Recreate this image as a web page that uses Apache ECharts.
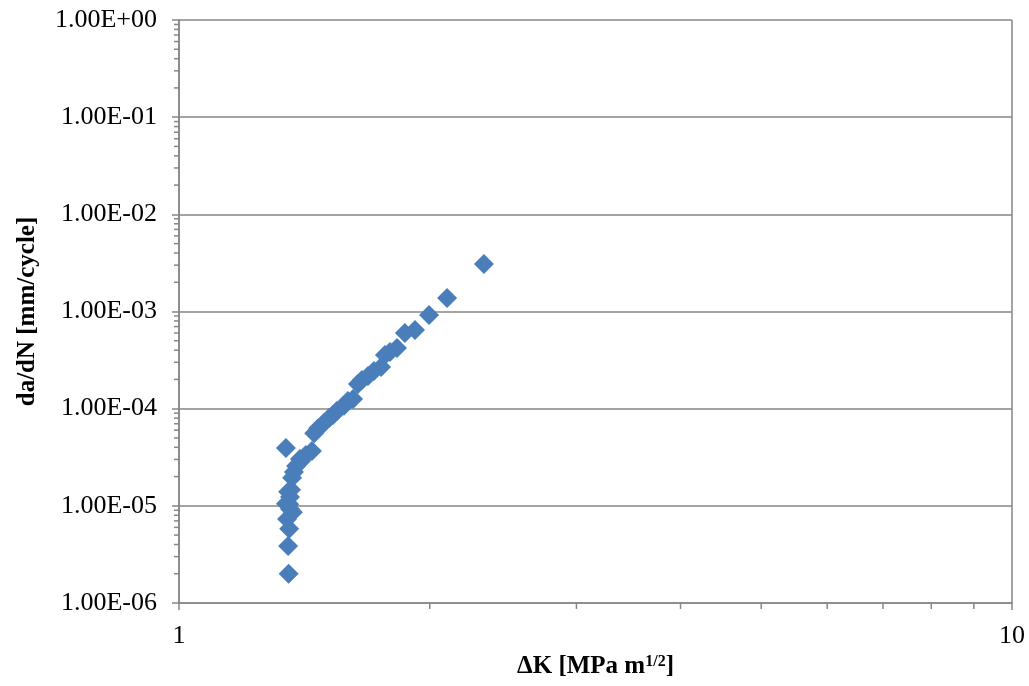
<!DOCTYPE html>
<html lang="en">

<head>
    <meta charset="UTF-8" />
    <title>da/dN vs Delta K</title>
    <script src="https://cdn.jsdelivr.net/npm/echarts@6/dist/echarts.min.js"></script>
    <style>
        * {
            margin: 0;
        }

        #chart {
            width: 1029px;
            height: 686px;
            background-color: #fff;
        }
    </style>
</head>

<body>
    <div id="chart"></div>
    <script>
        // Delta K [MPa m^1/2]
        const deltaK = [
            2.323, 2.098, 1.996, 1.920, 1.867, 1.827, 1.792, 1.767, 1.748, 1.714,
            1.686, 1.658, 1.640, 1.618, 1.595, 1.578, 1.548, 1.531, 1.514, 1.493,
            1.469, 1.453, 1.444, 1.420, 1.401, 1.397, 1.382, 1.374, 1.367, 1.363,
            1.344, 1.359, 1.356, 1.352, 1.344, 1.359, 1.370, 1.348, 1.356, 1.352,
            1.354
        ];
        // da/dN [mm/cycle]
        const dadN = [
            3.08e-3, 1.38e-3, 9.2e-4, 6.45e-4, 6.0e-4, 4.2e-4, 3.83e-4, 3.57e-4, 2.68e-4, 2.44e-4,
            2.17e-4, 1.97e-4, 1.79e-4, 1.26e-4, 1.20e-4, 1.07e-4, 9.5e-5, 8.6e-5, 8.0e-5, 7.1e-5,
            6.3e-5, 5.6e-5, 3.67e-5, 3.34e-5, 2.9e-5, 3.03e-5, 2.57e-5, 2.23e-5, 1.94e-5, 1.46e-5,
            3.94e-5, 1.23e-5, 1.04e-5, 1.4e-5, 1.05e-5, 9.3e-6, 8.6e-6, 7.3e-6, 5.8e-6, 3.87e-6,
            2.0e-6
        ];
        const xMin = 1, xMax = 10;
        const yMinExp = -6, yMaxExp = 0;
        const minorFactors = [2, 3, 4, 5, 6, 7, 8, 9];

        const axisGray = "#868686";
        const fontFamily = "'Liberation Serif', 'Times New Roman', serif";

        function sciLabel(v) {
            const exp = Math.round(Math.log10(v));
            const mant = v / Math.pow(10, exp);
            const sign = exp < 0 ? "-" : "+";
            const e = String(Math.abs(exp)).padStart(2, "0");
            return mant.toFixed(2) + "E" + sign + e;
        }

        const points = deltaK.map((k, i) => [k, dadN[i]]);

        // minor tick positions (values, drawn through the axes)
        const xMinor = minorFactors.map((f) => [f * xMin, Math.pow(10, yMinExp)]);
        const yMinor = [];
        for (let e = yMinExp; e < yMaxExp; e++) {
            minorFactors.forEach((f) => yMinor.push([xMin, f * Math.pow(10, e)]));
        }

        const chart = echarts.init(document.getElementById("chart"));
        chart.setOption({
            animation: false,
            grid: { left: 179, right: 17, top: 20, bottom: 83 },
            xAxis: {
                type: "log",
                logBase: 10,
                min: xMin,
                max: xMax,
                name: "{b|ΔK [MPa m}{s|1/2}{b|]}",
                nameLocation: "middle",
                nameGap: 49,
                nameTextStyle: {
                    rich: {
                        b: { fontFamily: fontFamily, fontWeight: "bold", fontSize: 25, color: "#000" },
                        s: { fontFamily: fontFamily, fontWeight: "bold", fontSize: 16, color: "#000", verticalAlign: "bottom", padding: [0, 0, 10, 0] },
                    },
                },
                axisLine: { lineStyle: { color: axisGray, width: 1.5 } },
                axisTick: { show: true, inside: false, length: 7, lineStyle: { color: axisGray, width: 1.5 } },
                axisLabel: { color: "#000", fontFamily: fontFamily, fontSize: 26, margin: 20 },
                splitLine: { show: true, lineStyle: { color: axisGray, width: 1.5 } },
            },
            yAxis: {
                type: "log",
                logBase: 10,
                min: Math.pow(10, yMinExp),
                max: Math.pow(10, yMaxExp),
                name: "da/dN [mm/cycle]",
                nameLocation: "middle",
                nameGap: 139,
                nameTextStyle: { fontFamily: fontFamily, fontWeight: "bold", fontSize: 25, color: "#000" },
                axisLine: { show: true, lineStyle: { color: axisGray, width: 1.5 } },
                axisTick: { show: true, inside: false, length: 7, lineStyle: { color: axisGray, width: 1.5 } },
                axisLabel: { color: "#000", fontFamily: fontFamily, fontSize: 26, margin: 22, formatter: sciLabel },
                splitLine: { show: true, lineStyle: { color: axisGray, width: 1.5 } },
            },
            series: [
                {
                    type: "scatter",
                    data: points,
                    symbol: "diamond",
                    symbolSize: 20,
                    itemStyle: { color: "#4A7EBB", opacity: 1 },
                    z: 5,
                },
                {
                    // x-axis minor ticks
                    type: "custom",
                    clip: false,
                    silent: true,
                    data: xMinor,
                    renderItem: (params, api) => {
                        const p = api.coord([api.value(0), api.value(1)]);
                        return {
                            type: "line",
                            shape: { x1: p[0], y1: p[1], x2: p[0], y2: p[1] + 6 },
                            style: { stroke: axisGray, lineWidth: 1.5 },
                        };
                    },
                },
                {
                    // y-axis minor ticks
                    type: "custom",
                    clip: false,
                    silent: true,
                    data: yMinor,
                    renderItem: (params, api) => {
                        const p = api.coord([api.value(0), api.value(1)]);
                        return {
                            type: "line",
                            shape: { x1: p[0] - 5, y1: p[1], x2: p[0], y2: p[1] },
                            style: { stroke: axisGray, lineWidth: 1.5 },
                        };
                    },
                },
            ],
        });
    </script>
</body>

</html>
